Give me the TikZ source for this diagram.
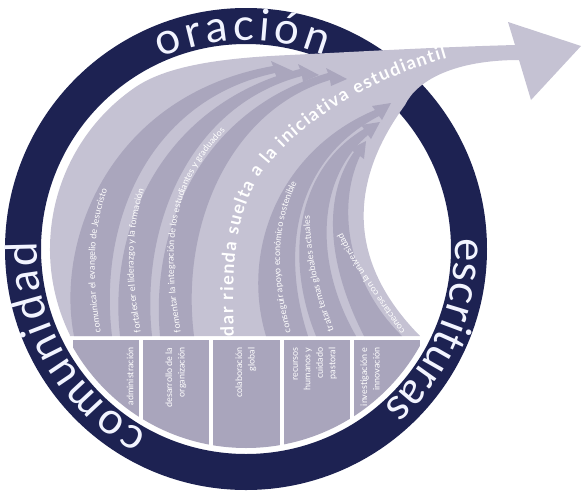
\documentclass[tikz,border=0pt]{standalone}
\usepackage{fontspec}
\setmainfont{Lato}
\usetikzlibrary{decorations.text}
\definecolor{navy}{HTML}{1D2252}
\definecolor{lite}{HTML}{C5C2D3}
\definecolor{mid}{HTML}{AAA6BD}
\definecolor{boxc}{HTML}{A9A5BC}
\definecolor{ringtxt}{HTML}{F2F4FF}
\newcommand{\ringfont}{\fontsize{44}{44}\selectfont\color{ringtxt}}
\newcommand{\fanfont}{\fontsize{9}{10}\selectfont}
\newcommand{\bigfont}{\fontsize{18}{19}\selectfont\bfseries}
\tikzset{
  band/.style={fill=mid},
  boxtxt/.style={rotate=90,anchor=east,align=right,text=white,font=\fontsize{9}{12.5}\selectfont},
  fantxt/.style={decorate,decoration={text along path,text color=white,text align=left,text={|\fanfont|#1}}},
  ringtext/.style={decorate,decoration={text along path,text align=fit to path,text={|\ringfont|#1}}},
}
\begin{document}
\begin{tikzpicture}[x=1pt,y=-1pt]
\useasboundingbox (0,0) rectangle (582,491);
\coordinate (C) at (246,249);
% ring
\fill[navy,even odd rule] (C) circle[radius=241] (C) circle[radius=205];
\path[ringtext={oración}] (C) ++(-114:209) arc[start angle=-114,end angle=-68,radius=209];
\path[ringtext={escrituras}] (C) ++(-3:209) arc[start angle=-3,end angle=49,radius=209];
\path[ringtext={comunidad}] (C) ++(118:209) arc[start angle=118,end angle=182,radius=209];
% big light arrow
\fill[lite] (C) ++(154:196) arc[start angle=154,end angle=235,radius=196]
  .. controls (165,66) and (220,58) .. (290,55)
  .. controls (370,51) and (440,47) .. (515,45)
  -- (508,22) -- (581,46) -- (531,100) -- (519,60)
  .. controls (455,60) and (417,80) .. (405,105)
  .. controls (350,180) and (345,260) .. (420,336)
  -- (70,336) -- cycle;
% left group bands
\fill[band] (74,336) .. controls (55,240) and (110,95) .. (273,66) -- (271,61) -- (293,71) -- (277,78) -- (275,73)
  .. controls (150,100) and (98,220) .. (112,336) -- cycle;
\fill[band] (120,336) .. controls (108,230) and (160,105) .. (300,69) -- (298,64) -- (319,75) -- (303,82) -- (302,76)
  .. controls (190,105) and (140,225) .. (152,336) -- cycle;
\fill[band] (160,336) .. controls (150,230) and (200,110) .. (328,73) -- (326,68) -- (347,79) -- (331,86) -- (330,80)
  .. controls (230,110) and (180,225) .. (194,336) -- cycle;
% right group bands
\fill[band] (266,336) .. controls (240,250) and (280,150) .. (375,110) -- (372,106) -- (391,103) -- (382,120) -- (379,116)
  .. controls (295,160) and (280,250) .. (308,336) -- cycle;
\fill[band] (316,336) .. controls (285,260) and (295,170) .. (364,129) -- (361,125) -- (380,122) -- (371,139) -- (368,135)
  .. controls (315,180) and (315,265) .. (356,336) -- cycle;
\fill[band] (364,336) .. controls (330,270) and (320,200) .. (354,152) -- (350,149) -- (366,141) -- (364,159) -- (360,156)
  .. controls (335,210) and (350,285) .. (402,336) -- cycle;
% fan texts
\path[fantxt={comunicar el evangelio de Jesucristo}] (101,332) .. controls (88,260) and (95,200) .. (125,155);
\path[fantxt={fortalecer el liderazgo y la formación}] (141,332) .. controls (128,260) and (130,200) .. (165,148);
\path[fantxt={fomentar la integración de los estudiantes y graduados}] (181,332) .. controls (165,240) and (170,170) .. (250,110);
\path[fantxt={conseguir apoyo económico sostenible}] (291,332) .. controls (274,270) and (274,210) .. (312,158);
\path[fantxt={tratar temas globales actuales}] (334,330) .. controls (318,290) and (308,250) .. (310,195);
\path[fantxt={conectarse con la universidad}] (405,331) .. controls (382,297) and (354,262) .. (334,215);
\path[decorate,decoration={text along path,text color=white,text align=fit to path,text={|\bigfont|dar rienda suelta a la iniciativa estudiantil}}]
  (234,336) .. controls (231,260) and (236,215) .. (260,175) .. controls (300,120) and (370,80) .. (447,58);
% boxes
\begin{scope}
\clip (C) circle[radius=199];
\fill[boxc] (73,340) rectangle (139,480);
\fill[boxc] (143,340) rectangle (209,480);
\fill[boxc] (213,340) rectangle (280,480);
\fill[boxc] (284,340) rectangle (350,480);
\fill[boxc] (354,340) rectangle (420,480);
\end{scope}
\node[boxtxt] (b1) at (130,344) {administración};
\node[boxtxt] (b2) at (176,344) {desarrollo de la\\organización};
\node[boxtxt] (b3) at (246,344) {colaboración\\global};
\node[boxtxt] (b4) at (315,344) {recursos\\humanos y\\cuidado\\pastoral};
\node[boxtxt] (b5) at (370,344) {investigación e\\innovación};
\end{tikzpicture}
\end{document}
